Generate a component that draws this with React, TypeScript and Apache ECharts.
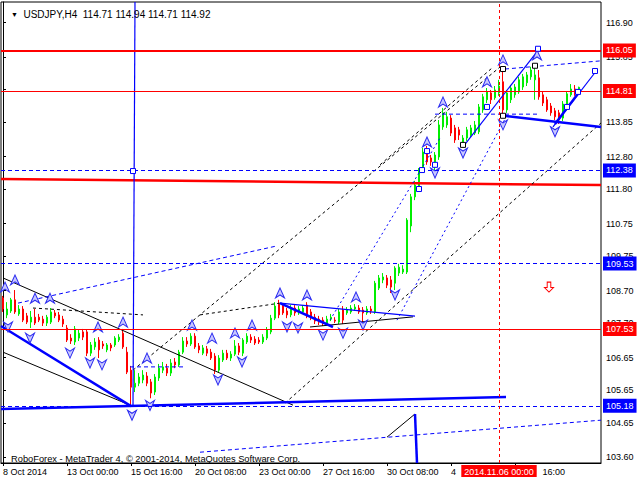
import React, { useEffect, useRef } from "react";
import * as echarts from "echarts";

const FONT = "Liberation Sans, Arial, sans-serif";
const FS = 9;

// ---- candles (H4 bars from 8 Oct 2014 08:00) ----
const opens = [
  108.48, 107.96, 108.08, 108.42, 107.99, 108.14, 107.93, 107.74, 107.89, 107.89,
  107.83, 107.71, 107.74, 108.02, 107.96, 107.83, 107.56, 107.25, 107.13, 107.25,
  107.44, 107.44, 106.79, 106.98, 107.19, 107.07, 106.89, 107.04, 107.04, 107.19,
  107.4, 106.82, 106.27, 105.75, 105.87, 105.97, 106.09, 105.91, 105.6, 106.03,
  106.27, 106.33, 106.18, 106.52, 106.43, 106.82, 107.16, 107.07, 107.31, 107.01,
  106.79, 106.92, 106.82, 106.7, 106.27, 106.58, 106.79, 106.64, 106.76, 107.01,
  106.79, 107.13, 107.28, 107.22, 107.19, 107.13, 107.25, 107.44, 107.86, 108.29,
  108.23, 108.08, 107.96, 108.17, 108.02, 108.05, 108.26, 108.05, 107.89, 107.83,
  107.8, 107.68, 107.83, 107.8, 107.74, 108.11, 108.02, 108.05, 108.14, 108.17,
  108.11, 108.02, 108.14, 108.05, 108.78, 109.03, 109.09, 109.03, 108.93, 109.24,
  109.27, 109.27, 110.68, 111.57, 111.84, 112.39, 112.94, 112.76, 112.55, 112.79,
  113.71, 113.77, 113.98, 113.68, 113.62, 113.22, 113.37, 113.46, 113.52, 113.56,
  114.23, 114.54, 114.75, 114.6, 114.75, 115.09, 114.23, 114.54, 114.69, 114.78,
  114.93, 115.06, 115.24, 115.15, 115.21, 114.69, 114.54, 114.35, 114.2, 114.14,
  113.98, 114.38, 114.69, 114.87, 114.71,
];
const closes = [
  108.14, 108.14, 108.42, 108.05, 108.14, 107.8, 107.74, 107.89, 107.71, 107.8,
  107.71, 107.89, 108.05, 107.93, 107.8, 107.68, 107.19, 107.16, 107.53, 107.4,
  107.28, 106.79, 107.04, 107.13, 106.89, 107.01, 107.04, 106.95, 107.25, 107.28,
  106.98, 106.21, 105.75, 105.87, 106.06, 106.12, 105.87, 105.57, 106.06, 106.33,
  106.37, 106.18, 106.49, 106.43, 106.82, 107.16, 107.07, 107.31, 106.98, 106.89,
  106.95, 106.79, 106.64, 106.27, 106.64, 106.79, 106.64, 106.76, 107.01, 106.82,
  107.19, 107.31, 107.19, 107.1, 107.13, 107.28, 107.5, 107.86, 108.23, 107.96,
  108.02, 107.96, 108.17, 108.02, 108.14, 108.17, 107.96, 107.89, 107.77, 107.74,
  107.71, 107.83, 107.89, 107.77, 108.05, 107.8, 108.11, 108.17, 108.2, 108.05,
  108.02, 108.14, 108.08, 108.93, 109.09, 109.12, 108.87, 108.81, 109.39, 109.42,
  109.36, 110.86, 111.57, 111.93, 112.33, 112.94, 112.64, 112.64, 112.85, 113.77,
  114.14, 114.02, 113.52, 113.31, 113.46, 113.37, 113.62, 113.68, 113.77, 114.32,
  114.63, 114.78, 114.54, 114.84, 114.96, 114.23, 114.75, 114.9, 114.93, 115.15,
  115.24, 115.3, 115.45, 115.3, 114.63, 114.44, 114.23, 114.14, 114.02, 113.92,
  114.41, 114.72, 114.87, 114.75, 114.92,
];
const highs = [
  108.54, 108.35, 108.48, 108.72, 108.26, 108.23, 108.02, 108.08, 108.14, 107.99,
  107.93, 107.96, 108.17, 108.11, 108.05, 107.93, 107.65, 107.37, 107.62, 107.5,
  107.53, 107.5, 107.13, 107.25, 107.28, 107.16, 107.1, 107.1, 107.31, 107.37,
  107.53, 106.98, 106.4, 106.27, 106.18, 106.27, 106.21, 106.0, 106.15, 106.46,
  106.52, 106.46, 106.61, 106.64, 106.89, 107.28, 107.28, 107.4, 107.4, 107.1,
  107.04, 107.01, 106.92, 106.79, 106.73, 106.89, 106.89, 106.85, 107.19, 107.1,
  107.25, 107.4, 107.37, 107.31, 107.28, 107.37, 107.59, 107.96, 108.35, 108.42,
  108.32, 108.17, 108.26, 108.26, 108.23, 108.26, 108.35, 108.14, 107.99, 107.93,
  107.89, 107.93, 107.99, 107.89, 108.14, 108.23, 108.2, 108.26, 108.29, 108.26,
  108.2, 108.23, 108.23, 109.0, 109.18, 109.24, 109.18, 109.15, 109.45, 109.52,
  109.48, 110.92, 111.66, 112.06, 112.45, 113.07, 113.13, 112.85, 112.94, 113.92,
  114.29, 114.17, 114.07, 113.77, 113.71, 113.46, 113.71, 113.77, 113.89, 114.41,
  114.72, 114.9, 114.84, 114.96, 115.15, 115.48, 114.84, 114.99, 115.02, 115.24,
  115.33, 115.39, 115.55, 115.64, 115.45, 114.78, 114.63, 114.44, 114.29, 114.23,
  114.5, 114.78, 115.02, 114.99, 114.94,
];
const lows = [
  108.05, 107.86, 108.02, 107.99, 107.93, 107.74, 107.68, 107.56, 107.65, 107.74,
  107.62, 107.62, 107.68, 107.86, 107.74, 107.59, 107.13, 107.07, 107.04, 107.16,
  107.19, 106.7, 106.7, 106.89, 106.64, 106.92, 106.82, 106.85, 106.98, 107.13,
  106.92, 106.15, 105.18, 105.6, 105.78, 105.87, 105.78, 105.41, 105.51, 105.94,
  106.18, 106.09, 106.09, 106.33, 106.37, 106.76, 106.98, 107.01, 106.92, 106.79,
  106.73, 106.7, 106.58, 106.15, 106.21, 106.52, 106.58, 106.55, 106.7, 106.73,
  106.7, 107.07, 107.1, 107.04, 107.07, 107.07, 107.19, 107.37, 107.8, 107.86,
  107.96, 107.86, 107.89, 107.93, 107.96, 107.99, 107.86, 107.8, 107.68, 107.65,
  107.62, 107.62, 107.77, 107.71, 107.68, 107.68, 107.96, 107.99, 108.08, 107.99,
  107.74, 107.96, 107.99, 107.99, 108.72, 108.93, 108.78, 108.63, 108.72, 109.15,
  109.21, 109.21, 110.49, 111.47, 111.75, 112.33, 112.55, 112.52, 112.39, 112.7,
  113.62, 113.68, 113.43, 113.22, 113.31, 113.1, 113.28, 113.4, 113.46, 113.49,
  114.14, 114.44, 114.41, 114.54, 114.66, 114.05, 114.14, 114.44, 114.6, 114.72,
  114.84, 114.96, 115.15, 114.54, 114.54, 114.35, 114.17, 114.05, 113.92, 113.8,
  113.89, 114.32, 114.63, 114.66, 114.71,
];

const slotCount = 150; // bars + right shift

// ---- axes ----
const xTickIndex = [0, 16, 32, 48, 64, 80, 96, 112, 128];
// label anchors: the last two labels are mostly covered by the time box, only their visible parts are written
const xLabelIndex = [0, 16, 32, 48, 64, 80, 96, 112, 134.9];
const xTickLabels = [
  "8 Oct 2014", "13 Oct 00:00", "15 Oct 16:00", "20 Oct 08:00", "23 Oct 00:00",
  "27 Oct 16:00", "30 Oct 08:00", "4", "16:00",
];
const yTickValues = [103.6, 104.65, 105.65, 106.65, 107.7, 108.7, 109.75, 110.75, 111.8, 112.8, 113.85, 114.87, 115.85, 116.9];
const yLabelValues = [103.6, 104.65, 105.65, 106.65, 107.7, 108.7, 109.75, 110.75, 111.8, 112.8, 113.85, 115.85, 116.9];
const yMin = 103.43;
const yMax = 117.53;

// ---- horizontal levels ----
const levelValues = [116.05, 114.92, 114.81, 112.38, 109.53, 107.53, 105.18];
const levelKinds = ["redThick", "bid", "red", "blueDash", "blueDash", "red", "blueDash"];

const timeLineIndex = 124;
const timeLineLabel = "2014.11.06 00:00";

// ---- drawn objects: [barIndex, price] ----
const redThickSegs = [[[-0.5, 112.12], [149.5, 111.93]]];
const blueThickSegs = [
  [[-0.5, 107.62], [32, 105.17]],
  [[-0.5, 105.08], [125.75, 105.45]],
  [[125, 114.05], [149.5, 113.71]],
  [[138, 113.8], [144.25, 114.81]],
  [[69.25, 108.32], [82.5, 107.59]],
  [[103, 104.93], [103.5, 103.43]],
];
const blueThinSegs = [
  [[33, 117.53], [32.5, 105.14]],
  [[69.25, 108.32], [103, 107.92]],
  [[115, 113.1], [134.25, 116.13]],
  [[137.5, 113.71], [148.5, 115.45]],
];
const blueDashedSegs = [
  [[3.75, 108.32], [68.5, 110.07]],
  [[125.5, 115.48], [149.5, 115.73]],
  [[108, 114.1], [133.75, 114.1]],
  [[49.25, 103.76], [149.5, 104.74]],
  [[31.75, 106.37], [45, 106.37]],
];
const blueDottedSegs = [
  [[81.75, 107.8], [109.25, 113.37]],
  [[98.5, 107.8], [125.5, 113.95]],
];
const blackDashedSegs = [
  [[32.5, 106.27], [124.25, 115.54]],
  [[94.25, 112.55], [122.25, 115.51]],
  [[70.5, 105.26], [149.5, 113.83]],
  [[7.5, 108.17], [35, 107.96]],
  [[49.25, 107.96], [69.25, 108.32]],
];
const blackSolidSegs = [
  [[0, 109.09], [72.5, 105.2]],
  [[0, 106.82], [31.75, 105.2]],
  [[76.75, 107.59], [102.5, 107.9]],
  [[96, 104.22], [103, 104.93]],
];

// ---- markers ----
const upFractals = [
  [0.5, 108.81], [3, 109.03], [8, 108.47], [11.75, 108.47], [23.75, 107.59], [30, 107.74],
  [36, 106.64], [47.25, 107.65], [52.25, 107.25], [58, 107.41], [62.25, 107.65], [69.25, 108.63],
  [76, 108.57], [88.25, 108.51], [106, 113.25], [110, 114.47], [121, 115.09], [125, 115.76], [133.5, 115.91],
];
const downFractals = [
  [1.25, 107.59], [6.75, 107.25], [16.75, 106.79], [21.75, 106.49], [24.75, 106.43], [32.25, 104.89],
  [36.75, 105.19], [53.75, 105.97], [59.75, 106.52], [71, 107.59], [73.75, 107.56], [80, 107.34],
  [85, 107.4], [90, 107.65], [98, 108.57], [108, 112.3], [115, 112.91], [125, 113.77], [138, 113.56],
];
const blackSquares = [[115, 113.16], [125, 115.48], [125, 114.05], [133, 115.58]];
const blueSquares = [
  [106, 112.97], [121, 114.32], [141, 114.32], [143.75, 114.78], [148, 115.42], [133.75, 116.1],
  [104.75, 112.39], [104, 111.81], [108, 112.55], [32.5, 112.36],
];
const sellArrow = [[136.5, 108.81]];

const title = "USDJPY,H4  114.71 114.94 114.71 114.92";
const footer = "RoboForex - MetaTrader 4, © 2001-2014, MetaQuotes Software Corp.";

function segSeries(segs: number[][][], color: string, width: number, type: any) {
  return segs.map((s) => ({
    type: "line",
    xAxisIndex: 1,
    yAxisIndex: 0,
    data: s,
    showSymbol: false,
    symbol: "none",
    silent: true,
    lineStyle: { color, width, type, opacity: 1 },
    z: 3,
  }));
}

function levelLook(kind: string): { line: any; bg: string } {
  if (kind === "redThick") return { line: { color: "#ff0000", width: 2, type: "solid", opacity: 1 }, bg: "#ff0000" };
  if (kind === "red") return { line: { color: "#ff0000", width: 1, type: "solid", opacity: 1 }, bg: "#ff0000" };
  if (kind === "blueDash") return { line: { color: "#0000ff", width: 1, type: [4, 3], opacity: 1 }, bg: "#0000ff" };
  return { line: { color: "rgba(0,0,0,0)", width: 1, opacity: 0 }, bg: "#000000" };
}

export default function App() {
  const ref = useRef<HTMLDivElement>(null);
  useEffect(() => {
    if (!ref.current) return;
    const chart = echarts.init(ref.current, undefined, { renderer: "svg" });
    const categories = Array.from({ length: slotCount }, (_, i) => String(i));
    const candleData = opens.map((o, i) => [o, closes[i], lows[i], highs[i]]);
    const lab = { fontFamily: FONT, fontSize: FS, color: "#000" };

    const levelData: any[] = levelValues.map((v, i) => {
      const kind = levelKinds[i];
      const st = levelLook(kind);
      const label: any =
        kind === "bid"
          ? {
              show: true,
              position: "end",
              distance: 2,
              formatter: "{box|}",
              rich: { box: { width: 33, height: 13, backgroundColor: "#000000" } },
            }
          : {
              show: true,
              position: "end",
              distance: 2,
              formatter: v.toFixed(2),
              backgroundColor: st.bg,
              color: "#fff",
              fontFamily: FONT,
              fontSize: FS,
              lineHeight: 11,
              padding: [2, 3, 1, 3],
            };
      return { yAxis: v, lineStyle: st.line, label };
    });
    levelData.push({
      xAxis: timeLineIndex,
      lineStyle: { color: "#ff0000", width: 1, type: [3, 3], opacity: 1 },
      label: {
        show: true,
        position: "start",
        distance: 2,
        formatter: timeLineLabel,
        backgroundColor: "#ff0000",
        color: "#fff",
        fontFamily: FONT,
        fontSize: FS,
        lineHeight: 11,
        padding: [1, 3, 0, 3],
      },
    });

    const option: any = {
      animation: false,
      backgroundColor: "#ffffff",
      textStyle: { fontFamily: FONT },
      title: [
        {
          text: "{a|▼}  " + title,
          left: 6,
          top: 4,
          textStyle: {
            fontFamily: FONT,
            fontSize: 10,
            fontWeight: "normal",
            color: "#000",
            rich: { a: { fontSize: 7, color: "#000", fontFamily: FONT } },
          },
        },
        {
          text: footer,
          left: 6,
          top: 449,
          textStyle: { fontFamily: FONT, fontSize: 9.3, fontWeight: "normal", color: "#000" },
        },
      ],
      grid: {
        left: 1,
        top: 2,
        right: 39,
        bottom: 17,
        show: true,
        borderColor: "#000",
        borderWidth: 1,
        backgroundColor: "#ffffff",
      },
      xAxis: [
        { type: "category", data: categories, boundaryGap: true, show: false },
        {
          type: "value",
          min: -0.5,
          max: slotCount - 0.5,
          position: "bottom",
          splitLine: { show: false },
          axisLine: { show: true, lineStyle: { color: "#000" } },
          axisTick: { show: true, customValues: xTickIndex, length: 3, lineStyle: { color: "#000" } },
          axisLabel: {
            ...lab,
            customValues: xLabelIndex,
            formatter: (v: number) => {
              const k = xLabelIndex.findIndex((x) => Math.abs(x - v) < 0.01);
              return k >= 0 ? xTickLabels[k] : "";
            },
            align: "left",
            margin: 4,
          },
        },
      ],
      yAxis: {
        type: "value",
        position: "right",
        min: yMin,
        max: yMax,
        splitLine: { show: false },
        axisLine: { show: true, lineStyle: { color: "#000" } },
        axisTick: { show: true, customValues: yTickValues, length: 3, lineStyle: { color: "#000" } },
        axisLabel: {
          ...lab,
          customValues: yLabelValues,
          formatter: (v: number) => v.toFixed(2),
          margin: 5,
        },
      },
      series: [
        {
          type: "candlestick",
          xAxisIndex: 0,
          yAxisIndex: 0,
          data: candleData,
          barWidth: 2,
          silent: true,
          itemStyle: {
            color: "#00ee00",
            color0: "#ff0000",
            borderColor: "#00ee00",
            borderColor0: "#ff0000",
            borderWidth: 1,
          },
          markLine: {
            symbol: "none",
            silent: true,
            animation: false,
            data: levelData,
          },
          z: 2,
        },
        ...segSeries(redThickSegs, "#ff0000", 2.5, "solid"),
        ...segSeries(blackSolidSegs, "#000000", 1, "solid"),
        ...segSeries(blackDashedSegs, "#000000", 1, [3, 3]),
        ...segSeries(blueDashedSegs, "#0000ff", 1, [4, 3]),
        ...segSeries(blueDottedSegs, "#0000ff", 1, [2, 3]),
        ...segSeries(blueThinSegs, "#0000ff", 1.2, "solid"),
        ...segSeries(blueThickSegs, "#0000ff", 2.5, "solid"),
        {
          type: "scatter",
          xAxisIndex: 1,
          yAxisIndex: 0,
          data: upFractals,
          symbol: "path://M5 0 L10 10 L5 7 L0 10 Z",
          symbolSize: [9, 10],
          silent: true,
          itemStyle: { color: "#c8c8ff", borderColor: "#2a2af0", borderWidth: 1, opacity: 1 },
          z: 4,
        },
        {
          type: "scatter",
          xAxisIndex: 1,
          yAxisIndex: 0,
          data: downFractals,
          symbol: "path://M0 0 L5 3 L10 0 L5 10 Z",
          symbolSize: [9, 10],
          silent: true,
          itemStyle: { color: "#c8c8ff", borderColor: "#2a2af0", borderWidth: 1, opacity: 1 },
          z: 4,
        },
        {
          type: "scatter",
          xAxisIndex: 1,
          yAxisIndex: 0,
          data: blackSquares,
          symbol: "rect",
          symbolSize: 5,
          silent: true,
          itemStyle: { color: "#ffffff", borderColor: "#000000", borderWidth: 1, opacity: 1 },
          z: 5,
        },
        {
          type: "scatter",
          xAxisIndex: 1,
          yAxisIndex: 0,
          data: blueSquares,
          symbol: "rect",
          symbolSize: 5,
          silent: true,
          itemStyle: { color: "#ffffff", borderColor: "#0000ff", borderWidth: 1, opacity: 1 },
          z: 5,
        },
        {
          type: "scatter",
          xAxisIndex: 1,
          yAxisIndex: 0,
          data: sellArrow,
          symbol: "path://M3 0 L7 0 L7 6 L10 6 L5 11 L0 6 L3 6 Z",
          symbolSize: [9, 10],
          silent: true,
          itemStyle: { color: "#ffffff", borderColor: "#ff0000", borderWidth: 1, opacity: 1 },
          z: 5,
        },
      ],
    };
    chart.setOption(option);
    return () => chart.dispose();
  }, []);
  return (
    <div
      ref={ref}
      style={{ position: "fixed", left: 0, top: 0, width: 640, height: 480, background: "#fff" }}
    />
  );
}
